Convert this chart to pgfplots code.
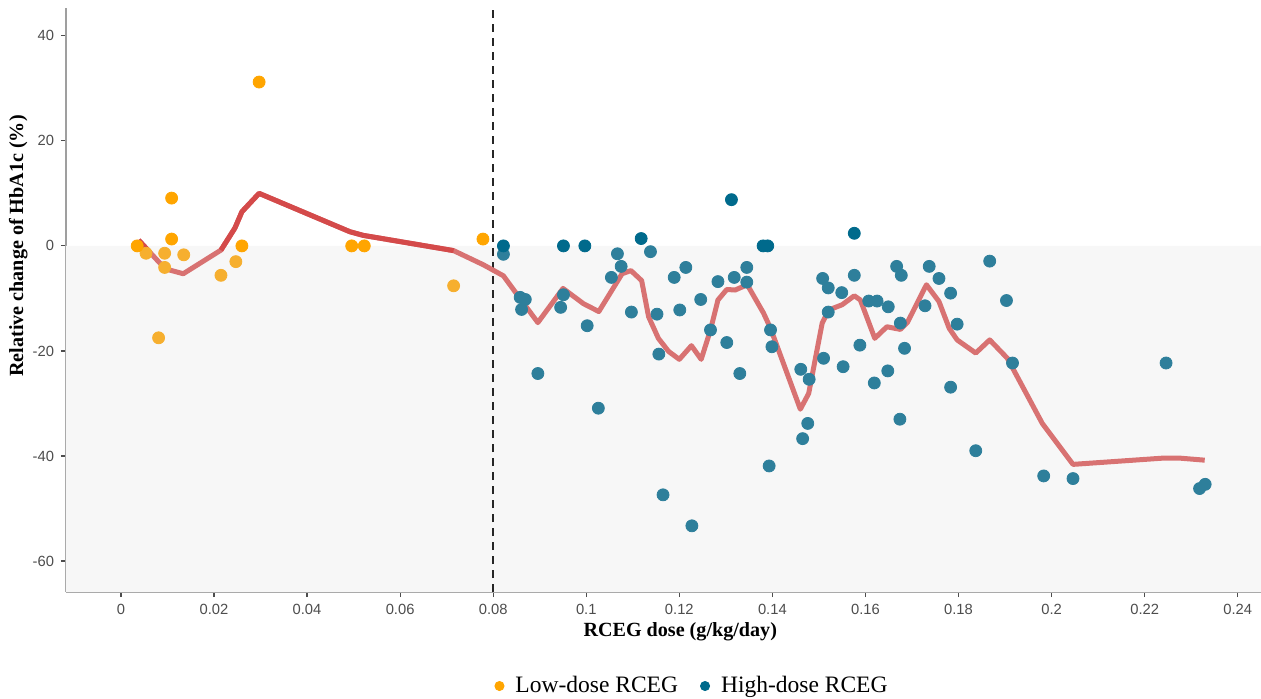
\documentclass[border=0pt]{standalone}
\usepackage{fontspec}
\setmainfont{Liberation Serif}
\newfontfamily\arialf{Liberation Sans}
\usepackage{pgfplots}
\pgfplotsset{compat=1.18}

\definecolor{lowdose}{HTML}{FFA500}
\definecolor{lowdoselt}{HTML}{F6AF2F}
\definecolor{highdose}{HTML}{006A8C}
\definecolor{highdoselt}{HTML}{2E7F9B}
\definecolor{fitdark}{HTML}{D44A4A}
\definecolor{fitlight}{HTML}{D87272}
\definecolor{panel}{HTML}{F7F7F7}
\definecolor{ticktext}{HTML}{4D4D4D}

\pgfplotsset{
  dots/.style={only marks, mark=*, mark size=3bp, color=#1, mark options={draw=#1, fill=#1}},
  legdot/.style={legend image code/.code={%
    \path[draw=none, fill=none] (-2.3bp,-0.1bp) rectangle (6.0bp,0.1bp);
    \fill[#1] (0bp,0bp) circle (2.3bp);}},
}

\begin{document}
\begin{tikzpicture}
\useasboundingbox (-33bp,-53.5bp) rectangle (597.5bp,296bp);
\begin{axis}[
    at={(0,0)}, anchor=south west,
    scale only axis,
    width=597.5bp, height=292bp,
    xmin=-0.0118, xmax=0.245,
    ymin=-65.9, ymax=45.3,
    axis lines*=left,
    axis line style={draw=gray!75, line width=1pt},
    tick align=outside,
    major tick length=2.5bp,
    tick style={ticktext, line width=0.6pt},
    xtick={0,0.02,0.04,0.06,0.08,0.1,0.12,0.14,0.16,0.18,0.2,0.22,0.24},
    xticklabels={0,0.02,0.04,0.06,0.08,0.1,0.12,0.14,0.16,0.18,0.2,0.22,0.24},
    ytick={-60,-40,-20,0,20,40},
    yticklabels={-60,-40,-20,0,20,40},
    scaled x ticks=false,
    ticklabel style={font=\arialf\fontsize{7.4}{9}\selectfont, text=ticktext},
    /pgf/number format/assume math mode=true,
    xlabel={\bfseries RCEG dose (g/kg/day)},
    ylabel={\bfseries Relative change of HbA1c (\%)},
    xlabel style={font=\fontsize{10.1}{12}\selectfont, at={(axis description cs:0.514,-0.068)}, anchor=center},
    ylabel style={font=\fontsize{10.1}{12}\selectfont, at={(axis description cs:-0.040,0.5925)}, anchor=center},
    legend columns=2,
    legend style={draw=none, fill=none, at={(axis description cs:0.5247,-0.161)}, anchor=center,
      font=\fontsize{11.8}{14}\selectfont,
      /tikz/every even column/.append style={column sep=9bp}},
    legend cell align=left,
  ]
  % grey panel below zero
  \addplot[fill=panel, draw=none, forget plot] coordinates {
    (-0.0118,0) (0.245,0) (0.245,-65.9) (-0.0118,-65.9)} \closedcycle;
  % threshold
  \addplot[black!85, line width=0.7pt, dash pattern=on 4bp off 3bp, forget plot]
    coordinates {(0.08,-65.9) (0.08,45.3)};

  % fitted trend
  \addplot[fitlight, line width=2.5bp, line join=round, forget plot] coordinates {
    (0.0038,1.1) (0.0084,-3.3) (0.0105,-4.6) (0.0134,-5.3) (0.0215,-0.8)
    (0.0245,3.4) (0.0260,6.5) (0.0297,10.0) (0.0492,2.7) (0.0521,2.0)
    (0.0715,-0.9) (0.0779,-3.6) (0.0822,-5.7) (0.0865,-10.9) (0.0896,-14.6)
    (0.0950,-8.1) (0.0994,-11.0) (0.1027,-12.5) (0.1077,-5.3) (0.1096,-4.7)
    (0.1119,-6.6) (0.1134,-13.5) (0.1155,-17.6) (0.1177,-20.1) (0.1200,-21.6)
    (0.1226,-19.0) (0.1247,-21.6) (0.1267,-16.0) (0.1283,-10.3) (0.1302,-8.3)
    (0.1320,-8.4) (0.1346,-7.4) (0.1381,-12.8) (0.1396,-15.7) (0.1460,-31.1)
    (0.1478,-28.1) (0.1507,-14.7) (0.1521,-12.2) (0.1550,-11.2) (0.1576,-9.5)
    (0.1589,-10.3) (0.1620,-17.6) (0.1646,-15.4) (0.1675,-15.9) (0.1690,-14.6)
    (0.1731,-7.4) (0.1758,-10.6) (0.1780,-15.7) (0.1797,-17.9) (0.1837,-20.4)
    (0.1867,-17.9) (0.1905,-21.4) (0.1980,-33.8) (0.2046,-41.6) (0.2241,-40.4)
    (0.2274,-40.4) (0.2329,-40.8)
  };
  \addplot[fitdark, line width=2.5bp, line join=round, forget plot] coordinates {
    (0.0038,1.1) (0.0062,-1.2)
  };
  \addplot[fitdark, line width=2.5bp, line join=round, forget plot] coordinates {
    (0.0215,-0.8) (0.0245,3.4) (0.0260,6.5) (0.0297,10.0) (0.0492,2.7)
    (0.0521,2.0) (0.0715,-0.9)
  };

  % low-dose RCEG
  \addplot[dots=lowdoselt, forget plot] coordinates {
    (0.0054,-1.4) (0.0094,-1.4) (0.0094,-4.1) (0.0135,-1.7) (0.0081,-17.5)
    (0.0215,-5.6) (0.0247,-3.0) (0.0715,-7.6)
  };
  \addplot[dots=lowdose, legdot=lowdose] coordinates {
    (0.0035,0) (0.0109,9.1) (0.0109,1.3) (0.0260,0) (0.0297,31.2)
    (0.0496,0) (0.0523,0) (0.0778,1.3)
  };
  \addlegendentry{Low-dose RCEG}

  % high-dose RCEG
  \addplot[dots=highdoselt, forget plot] coordinates {
    (0.0822,-1.6) (0.0858,-9.8) (0.0869,-10.2) (0.0861,-12.1) (0.0896,-24.3)
    (0.0951,-9.3) (0.0945,-11.7) (0.1002,-15.2) (0.1026,-30.9) (0.1054,-6.0)
    (0.1067,-1.5) (0.1075,-3.9) (0.1097,-12.6) (0.1138,-1.1) (0.1152,-13.0)
    (0.1156,-20.6) (0.1165,-47.4) (0.1189,-6.0) (0.1214,-4.1) (0.1201,-12.2)
    (0.1227,-53.3) (0.1246,-10.2) (0.1267,-16.0) (0.1283,-6.8) (0.1302,-18.4)
    (0.1318,-6.0) (0.1330,-24.3) (0.1345,-4.1) (0.1345,-6.9) (0.1396,-16.0)
    (0.1399,-19.2) (0.1393,-41.9) (0.1461,-23.5) (0.1465,-36.7) (0.1479,-25.4)
    (0.1476,-33.8) (0.1508,-6.2) (0.1520,-8.0) (0.1510,-21.4) (0.1520,-12.6)
    (0.1549,-8.9) (0.1552,-23.0) (0.1576,-5.6) (0.1588,-18.9) (0.1607,-10.5)
    (0.1625,-10.5) (0.1619,-26.1) (0.1649,-11.6) (0.1648,-23.8) (0.1667,-3.9)
    (0.1677,-5.6) (0.1675,-14.7) (0.1684,-19.5) (0.1674,-33.0) (0.1737,-3.9)
    (0.1728,-11.4) (0.1758,-6.2) (0.1783,-9.0) (0.1783,-26.9) (0.1797,-14.9)
    (0.1837,-39.0) (0.1867,-2.9) (0.1903,-10.4) (0.1916,-22.3) (0.1983,-43.8)
    (0.2046,-44.3) (0.2246,-22.3) (0.2318,-46.2) (0.2330,-45.4)
  };
  \addplot[dots=highdose, legdot=highdose] coordinates {
    (0.0822,0) (0.0951,0) (0.0997,0) (0.1118,1.4) (0.1312,8.8)
    (0.1380,0) (0.1390,0) (0.1576,2.4)
  };
  \addlegendentry{High-dose RCEG}
\end{axis}
\end{tikzpicture}
\end{document}
